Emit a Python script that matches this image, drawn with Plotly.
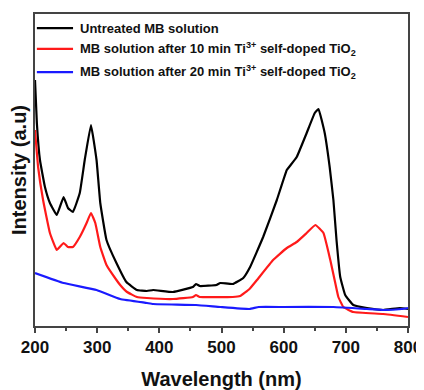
import plotly.graph_objects as go

# Wavelength (nm) and intensity (a.u.)
black_nm = [200, 203, 208, 216, 224, 235, 246, 253, 261, 272, 280, 290, 299, 305, 315, 331, 347, 364, 380,
            390, 422, 454, 459, 465, 492, 498, 518, 535, 546, 567, 589, 605, 610, 621, 637, 650, 656,
            666, 674, 680, 685, 691, 699, 712, 734, 760, 787, 800]
black_int = [2.46, 2.03, 1.66, 1.39, 1.23, 1.11, 1.29, 1.18, 1.14, 1.33, 1.66, 2.01, 1.66, 1.23, 0.86, 0.63,
             0.44, 0.36, 0.35, 0.36, 0.34, 0.39, 0.42, 0.40, 0.41, 0.43, 0.42, 0.48, 0.59, 0.89, 1.26, 1.56,
             1.60, 1.69, 1.93, 2.13, 2.17, 1.93, 1.59, 1.26, 0.86, 0.49, 0.31, 0.21, 0.18, 0.16, 0.18, 0.17]

red_nm = [200, 205, 213, 224, 235, 246, 253, 261, 272, 283, 290, 297, 305, 315, 331, 337, 348, 364, 380,
          422, 454, 459, 465, 518, 530, 545, 557, 583, 605, 621, 637, 651, 664, 675, 683, 688, 696,
          712, 760, 800]
red_int = [1.96, 1.59, 1.26, 0.93, 0.76, 0.83, 0.79, 0.79, 0.89, 1.03, 1.13, 1.03, 0.79, 0.61, 0.46, 0.41,
           0.34, 0.29, 0.28, 0.27, 0.29, 0.31, 0.29, 0.29, 0.30, 0.37, 0.46, 0.66, 0.78, 0.84, 0.93,
           1.01, 0.93, 0.66, 0.43, 0.29, 0.19, 0.14, 0.12, 0.09]

blue_nm = [200, 246, 299, 337, 380, 390, 459, 498, 545, 560, 600, 680, 734, 760, 790, 800]
blue_int = [0.53, 0.43, 0.36, 0.27, 0.23, 0.22, 0.21, 0.19, 0.17, 0.19, 0.19, 0.19, 0.17, 0.16, 0.17, 0.18]

names = ["Untreated MB solution",
         "MB solution after 10 min Ti<sup>3+</sup> self-doped TiO<sub>2</sub>",
         "MB solution after 20 min Ti<sup>3+</sup> self-doped TiO<sub>2</sub>"]
colors = ["#000000", "#ff1a1a", "#1a1aff"]
legend_y = [0.955, 0.888, 0.814]

font = "Liberation Sans, Arial, sans-serif"
fig = go.Figure()
for x, y, n, c, ly in zip([black_nm, red_nm, blue_nm], [black_int, red_int, blue_int], names, colors, legend_y):
    fig.add_trace(go.Scatter(x=x, y=y, mode="lines", name=n, showlegend=False,
                             line=dict(color=c, width=2.2, shape="spline", smoothing=0.3)))
    fig.add_shape(type="line", xref="paper", yref="paper", x0=0.005, x1=0.102, y0=ly, y1=ly,
                  line=dict(color=c, width=2.2))
    fig.add_annotation(xref="paper", yref="paper", x=0.115, y=ly, xanchor="left", yanchor="middle",
                       text=n, showarrow=False, font=dict(size=13, family=font, weight="bold", color="#111"))

fig.update_layout(
    width=416, height=382,
    margin=dict(l=27, r=16, t=6, b=64),
    paper_bgcolor="white", plot_bgcolor="white",
    font=dict(family=font, color="#111"),
    showlegend=False,
    xaxis=dict(range=[200, 800], dtick=100, showline=True, linecolor="#444", linewidth=1.5, mirror=True,
               ticks="outside", ticklen=5, tickwidth=1.5, tickcolor="#444", automargin=False,
               minor=dict(dtick=50, ticks="outside", ticklen=3, tickcolor="#444"),
               showgrid=False, zeroline=False,
               tickfont=dict(size=17, weight="bold"),
               title=dict(text="Wavelength (nm)", font=dict(size=20, weight="bold"), standoff=18)),
    yaxis=dict(range=[0, 3.12], showline=True, linecolor="#444", linewidth=1.5, mirror=True,
               showticklabels=False, ticks="", showgrid=False, zeroline=False, automargin=False,
               title=dict(text="Intensity (a.u)", font=dict(size=20, weight="bold"), standoff=5)),
)

fig.write_html("out.html")
